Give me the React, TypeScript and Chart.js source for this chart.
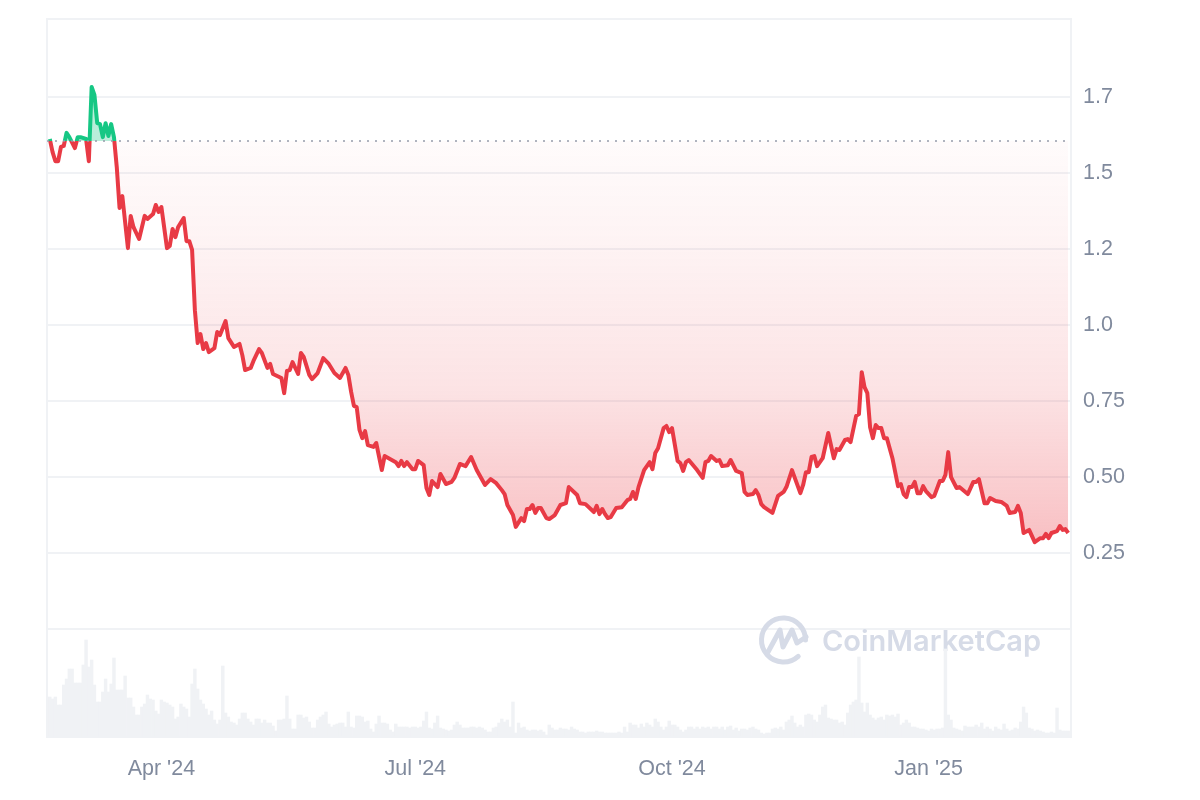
import { useEffect, useRef } from 'react';
import Chart from 'chart.js/auto';

// day 0 = 20 Feb 2024
const priceDays = [
  1, 2, 3, 4, 5, 6, 7, 8, 10, 11, 12, 14, 15, 16, 17, 18, 19, 20, 21, 22, 23, 24, 25, 26, 27, 29, 30, 31, 33, 35, 36, 38, 39, 40, 41, 43, 44, 45, 46, 47, 49,
  50, 51, 52, 53, 54, 55, 56, 57, 58, 60, 61, 62, 64, 65, 67, 69, 70, 71, 73, 74, 76, 77, 79, 80, 81, 84, 85, 86, 87, 88, 90, 91, 92, 94, 95, 97, 99, 101, 103, 105, 107, 108,
  109, 110, 111, 112, 113, 114, 115, 117, 118, 120, 121, 125, 126, 127, 128, 129, 131, 132, 133, 135, 136, 137, 138, 140, 141, 143, 145, 146, 148, 150, 152, 154, 157, 159, 161, 163, 164, 165, 167, 168,
  170, 171, 172, 173, 174, 175, 176, 177, 179, 180, 182, 184, 186, 187, 190, 191, 193, 196, 197, 198, 199, 200, 201, 202, 204, 206, 208, 209, 210, 211, 212, 214, 216, 217, 218, 219, 221, 222, 223, 224,
  226, 227, 228, 229, 230, 233, 235, 236, 237, 238, 240, 241, 242, 244, 245, 247, 249, 250, 251, 253, 254, 255, 256, 257, 260, 262, 264, 265, 267, 270, 271, 272, 273, 274, 275, 276, 278, 280, 282, 283, 284,
  286, 287, 288, 290, 291, 292, 293, 294, 295, 296, 297, 298, 299, 300, 301, 303, 305, 306, 307, 308, 309, 310, 311, 312, 313, 314, 315, 317, 318, 320, 321, 322, 323, 324, 326, 327, 330, 332, 333, 334,
  336, 337, 338, 340, 342, 344, 345, 347, 348, 349, 350, 352, 354, 356, 357, 358, 359, 360, 362, 363, 364, 365, 366,
];
const priceValues = [
  1.612, 1.569, 1.539, 1.539, 1.586, 1.589, 1.632, 1.618, 1.582, 1.618, 1.618, 1.612, 1.539, 1.783, 1.757, 1.664, 1.661, 1.618, 1.664, 1.622, 1.661, 1.618, 1.52, 1.385, 1.424, 1.253, 1.359, 1.322, 1.283, 1.359, 1.349, 1.365, 1.395, 1.372, 1.388, 1.253, 1.26, 1.316, 1.289, 1.322, 1.352,
  1.276, 1.276, 1.247, 1.049, 0.941, 0.97, 0.921, 0.941, 0.911, 0.924, 0.977, 0.967, 1.013, 0.957, 0.928, 0.938, 0.901, 0.852, 0.859, 0.882, 0.921, 0.908, 0.859, 0.872, 0.839, 0.826, 0.776, 0.849, 0.852, 0.878, 0.839, 0.908, 0.895, 0.836, 0.822, 0.842, 0.891, 0.872, 0.842, 0.826, 0.859, 0.836,
  0.78, 0.734, 0.73, 0.655, 0.628, 0.651, 0.605, 0.599, 0.612, 0.523, 0.569, 0.549, 0.536, 0.553, 0.536, 0.549, 0.526, 0.526, 0.553, 0.539, 0.464, 0.441, 0.487, 0.467, 0.51, 0.477, 0.484, 0.497, 0.543, 0.536, 0.566, 0.523, 0.474, 0.493, 0.48, 0.457, 0.444, 0.408, 0.375, 0.336,
  0.365, 0.355, 0.395, 0.395, 0.408, 0.382, 0.398, 0.398, 0.365, 0.362, 0.375, 0.408, 0.414, 0.467, 0.441, 0.414, 0.411, 0.385, 0.405, 0.378, 0.395, 0.378, 0.365, 0.368, 0.398, 0.401, 0.424, 0.428, 0.451, 0.428, 0.467, 0.523, 0.549, 0.526, 0.579, 0.595, 0.661, 0.668, 0.648, 0.661,
  0.553, 0.546, 0.52, 0.549, 0.556, 0.523, 0.497, 0.549, 0.553, 0.569, 0.553, 0.556, 0.536, 0.539, 0.556, 0.52, 0.513, 0.451, 0.441, 0.444, 0.457, 0.441, 0.411, 0.401, 0.382, 0.438, 0.451, 0.467, 0.523, 0.447, 0.474, 0.516, 0.516, 0.566, 0.569, 0.536, 0.562, 0.645, 0.562, 0.592, 0.589,
  0.622, 0.625, 0.615, 0.701, 0.707, 0.845, 0.796, 0.776, 0.664, 0.628, 0.671, 0.661, 0.661, 0.628, 0.628, 0.562, 0.47, 0.477, 0.444, 0.434, 0.467, 0.467, 0.484, 0.447, 0.447, 0.47, 0.454, 0.434, 0.438, 0.487, 0.487, 0.507, 0.582, 0.5, 0.464, 0.467, 0.444, 0.484, 0.484, 0.493,
  0.414, 0.414, 0.431, 0.421, 0.418, 0.405, 0.382, 0.385, 0.405, 0.382, 0.316, 0.326, 0.286, 0.299, 0.299, 0.313, 0.299, 0.316, 0.322, 0.339, 0.326, 0.329, 0.316,
];
// one bar per day, in millions
const volumeValues = [
  40, 40, 38, 40, 32, 32, 52, 58, 68, 68, 54, 54, 54, 72, 97, 70, 77, 52, 35, 35, 45, 58, 45, 53, 79, 47, 47, 47, 61, 39, 39, 30, 22, 22, 30, 33, 42, 38, 37, 26,
  23, 37, 35, 34, 32, 30, 18, 20, 33, 30, 28, 20, 53, 68, 48, 37, 33, 28, 22, 26, 17, 13, 17, 71, 24, 20, 15, 14, 12, 18, 24, 24, 18, 15, 12, 18, 18, 14, 17, 14,
  14, 11, 6, 17, 17, 18, 41, 18, 8, 8, 22, 22, 19, 20, 15, 9, 9, 17, 20, 22, 25, 13, 10, 12, 13, 14, 14, 10, 25, 10, 9, 21, 21, 20, 15, 16, 8, 5, 13, 21,
  14, 14, 13, 7, 5, 13, 10, 10, 10, 10, 9, 10, 10, 9, 10, 16, 25, 9, 8, 14, 21, 9, 8, 7, 6, 7, 12, 15, 12, 9, 9, 9, 10, 10, 9, 10, 9, 7, 5, 5,
  9, 10, 14, 18, 15, 17, 10, 35, 4, 14, 9, 10, 7, 6, 7, 7, 6, 7, 5, 2, 12, 9, 7, 7, 9, 8, 8, 7, 10, 8, 7, 5, 5, 4, 5, 5, 5, 6, 5, 5,
  4, 4, 4, 4, 4, 5, 4, 10, 5, 14, 12, 12, 9, 13, 10, 14, 12, 10, 18, 15, 10, 7, 10, 16, 12, 12, 10, 7, 5, 7, 10, 10, 8, 10, 8, 10, 9, 10, 8, 10,
  10, 8, 10, 7, 10, 11, 7, 9, 6, 8, 8, 7, 9, 10, 8, 7, 4, 3, 4, 4, 8, 9, 8, 10, 7, 15, 17, 21, 14, 10, 12, 10, 22, 23, 22, 17, 15, 22, 30, 32,
  19, 18, 17, 17, 14, 15, 12, 24, 32, 35, 37, 80, 34, 25, 34, 22, 19, 17, 19, 20, 17, 22, 21, 22, 20, 23, 12, 14, 17, 14, 10, 10, 9, 8, 8, 7, 6, 8, 7, 8,
  8, 9, 88, 22, 17, 9, 8, 7, 6, 11, 10, 10, 10, 12, 10, 14, 8, 10, 8, 6, 10, 8, 7, 13, 8, 6, 7, 9, 8, 15, 30, 24, 9, 8, 6, 7, 6, 5, 4, 4,
  5, 4, 29, 7, 6, 6, 6,
];
const xTickDays = [41, 132, 224, 316];
const xTickLabels = ["Apr '24", "Jul '24", "Oct '24", "Jan '25"];
const yTickValues = [0, 0.25, 0.5, 0.75, 1, 1.25, 1.5, 1.75];
const yTickLabels = ['', '0.25', '0.50', '0.75', '1.0', '1.2', '1.5', '1.7'];
const baselinePrice = 1.605;
const lastDay = 367;

const GREEN = '#16c784';
const RED = '#e83a45';
const GRID = '#f0f2f5';
const TICK_COLOR = '#808a9d';
const TICK_FONT = { family: 'Arial, "Liberation Sans", sans-serif', size: 21.5 };

const backdrop = {
  id: 'backdrop',
  beforeDatasetsDraw(chart: any) {
    const { ctx, chartArea: a } = chart;
    ctx.save();
    // frame
    ctx.strokeStyle = GRID;
    ctx.lineWidth = 2;
    ctx.strokeRect(a.left, a.top, a.right - a.left, a.bottom - a.top);
    // watermark
    ctx.strokeStyle = '#d6dbe7';
    ctx.lineWidth = 5;
    ctx.lineCap = 'round';
    ctx.lineJoin = 'round';
    ctx.beginPath();
    ctx.arc(783.5, 640, 22, (48 * Math.PI) / 180, 2 * Math.PI);
    ctx.stroke();
    ctx.beginPath();
    ctx.moveTo(768, 652);
    ctx.lineTo(780, 630);
    ctx.lineTo(783, 647);
    ctx.lineTo(792, 630);
    ctx.lineTo(797, 643);
    ctx.lineTo(806, 637);
    ctx.stroke();
    ctx.fillStyle = '#d6dbe7';
    ctx.font = '600 29px Inter, sans-serif';
    ctx.textAlign = 'left';
    ctx.textBaseline = 'middle';
    ctx.fillText('CoinMarketCap', 822, 642);
    ctx.restore();
  },
};

export default function App() {
  const chartRef = useRef<HTMLCanvasElement>(null);

  useEffect(() => {
    if (!chartRef.current) return;
    const chart = new Chart(chartRef.current, {
      type: 'line',
      plugins: [backdrop],
      data: {
        datasets: [
          {
            label: 'Baseline',
            data: [{ x: 0, y: baselinePrice }, { x: lastDay - 1, y: baselinePrice }],
            borderColor: '#969cab',
            borderWidth: 1.5,
            borderDash: [2, 6],
            pointRadius: 0,
            order: 1,
          },
          {
            label: 'Price',
            data: priceDays.map((d, i) => ({ x: d, y: priceValues[i] })),
            borderColor: RED,
            borderWidth: 4,
            borderJoinStyle: 'round',
            pointRadius: 0,
            tension: 0,
            fill: { target: { value: baselinePrice }, above: 'rgba(22,199,132,0.3)', below: 'rgba(234,57,67,0.2)' },
            order: 2,
          },
          {
            type: 'bar',
            label: 'Volume',
            data: volumeValues.map((v, i) => ({ x: i, y: v })),
            yAxisID: 'volume',
            backgroundColor: '#f0f2f5',
            barThickness: 2.8,
            order: 3,
          },
        ],
      } as any,
      options: {
        responsive: false,
        animation: false,
        layout: { padding: { left: 47, top: 19 } },
        plugins: { legend: { display: false }, tooltip: { enabled: false } },
        scales: {
          x: {
            type: 'linear',
            offset: false,
            min: 0,
            max: lastDay,
            grid: { display: false, offset: false },
            border: { display: false },
            afterBuildTicks: (scale: any) => {
              scale.ticks = xTickDays.map((value) => ({ value }));
            },
            afterFit: (scale: any) => {
              scale.height = 63;
            },
            ticks: {
              autoSkip: false,
              maxRotation: 0,
              padding: 11,
              color: TICK_COLOR,
              font: TICK_FONT,
              callback: (_v: any, i: number) => xTickLabels[i],
            },
          },
          y: {
            position: 'right',
            min: -0.355,
            max: 2.0066,
            grid: { color: GRID, lineWidth: 2, drawTicks: false },
            border: { display: false },
            afterBuildTicks: (scale: any) => {
              scale.ticks = yTickValues.map((value) => ({ value }));
            },
            afterFit: (scale: any) => {
              scale.width = 129;
              scale.paddingTop = 0;
              scale.paddingBottom = 0;
            },
            ticks: {
              padding: 12,
              color: TICK_COLOR,
              font: TICK_FONT,
              callback: (_v: any, i: number) => yTickLabels[i],
            },
          },
          volume: {
            display: false,
            min: 0,
            max: 718,
            afterFit: (scale: any) => {
              scale.paddingTop = 0;
              scale.paddingBottom = 0;
            },
          },
        },
      } as any,
    });

    // gradients need the laid out scales
    const ctx = chart.ctx;
    const yScale = chart.scales.y;
    const { top, bottom } = chart.chartArea;
    const baseY = yScale.getPixelForValue(baselinePrice);
    const stop = (baseY - top) / (bottom - top);
    const line = ctx.createLinearGradient(0, top, 0, bottom);
    line.addColorStop(0, GREEN);
    line.addColorStop(stop, GREEN);
    line.addColorStop(stop, RED);
    line.addColorStop(1, RED);
    const below = ctx.createLinearGradient(0, baseY, 0, yScale.getPixelForValue(Math.min(...priceValues)));
    below.addColorStop(0, 'rgba(234,57,67,0.02)');
    below.addColorStop(0.25, 'rgba(234,57,67,0.06)');
    below.addColorStop(0.62, 'rgba(234,57,67,0.14)');
    below.addColorStop(0.9, 'rgba(234,57,67,0.27)');
    below.addColorStop(1, 'rgba(234,57,67,0.32)');
    const price = chart.data.datasets[1] as any;
    price.borderColor = line;
    price.fill.below = below;
    chart.update('none');

    return () => chart.destroy();
  }, []);

  return (
    <div style={{ position: 'absolute', left: 0, top: 0, width: 1200, height: 800, background: '#fff' }}>
      <canvas ref={chartRef} width={1200} height={800} style={{ display: 'block' }} />
    </div>
  );
}
